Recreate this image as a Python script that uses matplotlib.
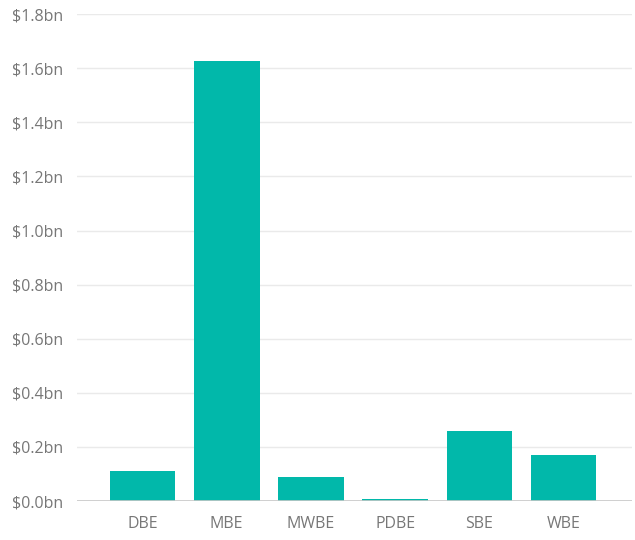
import matplotlib
matplotlib.use("Agg")
import matplotlib.pyplot as plt
from matplotlib.ticker import FuncFormatter

# Spend by certification type, in billions of dollars
categories = ["DBE", "MBE", "MWBE", "PDBE", "SBE", "WBE"]
spend_bn = [0.111, 1.626, 0.089, 0.007, 0.259, 0.170]
y_ticks = [0.0, 0.2, 0.4, 0.6, 0.8, 1.0, 1.2, 1.4, 1.6, 1.8]

TEAL = "#01B8AA"
LABEL = "#777777"

plt.rcParams["font.family"] = ["Open Sans", "DejaVu Sans"]

fig = plt.figure(figsize=(6.35, 5.4), dpi=100)
ax = fig.add_axes([0.121, 0.072, 0.874, 0.902])

x = range(len(categories))
ax.bar(x, spend_bn, width=0.78, color=TEAL, zorder=3)

ax.set_xlim(-0.78, len(categories) - 1 + 0.81)
ax.set_ylim(0, 1.8)
ax.set_yticks(y_ticks)
ax.yaxis.set_major_formatter(FuncFormatter(lambda v, _: f"${v:.1f}bn"))
ax.set_xticks(list(x))
ax.set_xticklabels(categories)

ax.grid(axis="y", color="#EAEAEA", linewidth=1, zorder=0)
ax.axhline(0, color="#C8C8C8", linewidth=1.2, zorder=4)
for s in ax.spines.values():
    s.set_visible(False)
ax.tick_params(length=0, labelsize=11.5, labelcolor=LABEL)
ax.tick_params(axis="x", pad=11)
ax.tick_params(axis="y", pad=10)

fig.savefig("out.png", facecolor="white")
